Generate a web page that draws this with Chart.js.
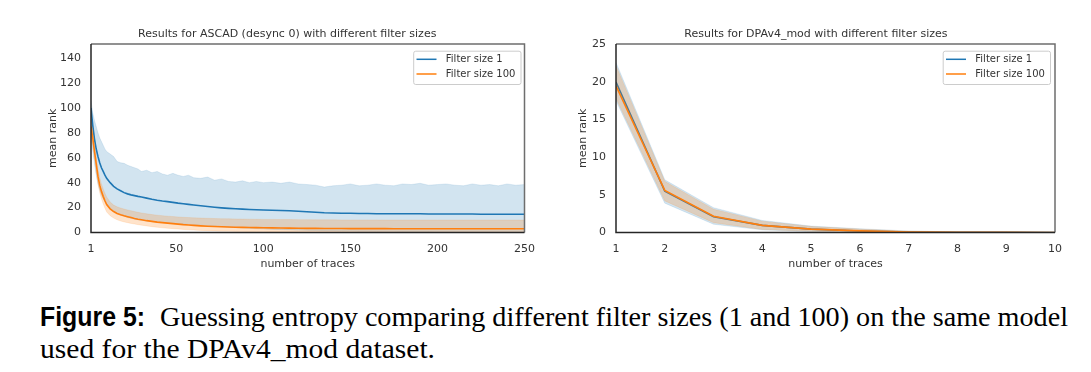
<!DOCTYPE html>
<html>
<head>
<meta charset="utf-8">
<script src="https://cdn.jsdelivr.net/npm/chart.js@4.4.1/dist/chart.umd.min.js"></script>
<style>
  html, body { margin:0; padding:0; background:#fff; width:1091px; height:372px; overflow:hidden; }
  #c1 { position:absolute; left:0; top:0; }
  #c2 { position:absolute; left:545px; top:0; }
  .cap { position:absolute; white-space:nowrap; font-size:27px; line-height:27px; color:#000; transform-origin:0 0; }
  .serif { font-family:'Liberation Serif', serif; }
  .sansb { font-family:'Liberation Sans', sans-serif; font-weight:bold; }
</style>
</head>
<body>
<canvas id="c1" width="545" height="280"></canvas>
<canvas id="c2" width="546" height="280"></canvas>
<span id="capFig" class="cap sansb" style="left:40px; top:304px;">Figure 5:</span>
<span id="capL1" class="cap serif" style="left:160px; top:304px;">Guessing entropy comparing different filter sizes (1 and 100) on the same model</span>
<span id="capL2" class="cap serif" style="left:40px; top:335.7px;">used for the DPAv4_mod dataset.</span>
<script>
// ---------------- DATA ----------------
const TITLE_LEFT = 'Results for ASCAD (desync 0) with different filter sizes';
const TITLE_RIGHT = 'Results for DPAv4_mod with different filter sizes';
const SERIES_NAMES = ['Filter size 1', 'Filter size 100'];
const X_LABEL = 'number of traces';
const Y_LABEL = 'mean rank';

const LEFT_X = [1,2,3,4,5,6,7,8,9,10,
  12,14,16,18,20,22,24,26,28,30,
  33,36,39,42,45,48,51,54,57,60,
  64,68,72,76,80,84,88,92,96,100,
  105,110,115,120,125,130,135,140,145,150,
  155,160,165,170,175,180,185,190,195,200,
  205,210,215,220,225,230,235,240,245,250];
const LEFT_X_TICKS = [1,50,100,150,200,250];
const LEFT_Y_TICKS = [0,20,40,60,80,100,120,140];

const BLUE1_MEAN = [100,86,75,67,61,56,52,49,46,43.5,
  40,37,35,33.5,32,31,30.2,29.6,29,28.5,
  27.6,26.7,25.9,25.3,24.8,24.2,23.6,23.1,22.6,22.1,
  21.5,20.9,20.3,19.8,19.4,19.1,18.8,18.5,18.2,18,
  17.8,17.6,17.4,17.1,16.7,16.2,15.8,15.6,15.5,15.4,
  15.3,15.2,15.1,15.1,15,15,15,15,14.9,14.9,
  14.9,14.8,14.8,14.8,14.7,14.7,14.7,14.6,14.6,14.6];
const BLUE1_UP = [106,96,90,85,80,76,73,70,67,65,
  63,61,57,56,55.5,54,53,52,51,49,
  50,48,49,47,46,47.5,46,45,46,44,
  43.5,44.5,42,43,41,40.5,41.5,40,41,40,
  40.5,39.5,40.5,39,38.5,38,36.5,37.5,38,39,
  37.5,38,39,38,37.5,39,38.5,39.5,38,38.5,
  39,38,37.5,39,38,38.5,37.5,39,38,38.5];
const BLUE1_LO = [78,66,55,46,39,34,30,27,24.5,22.5,
  19.5,17,15.5,14,13,12,11.3,10.7,10.2,9.8,
  9.2,8.7,8.3,8,7.7,7.4,7.1,6.8,6.5,6.2,
  5.8,5.4,5,4.6,4.2,3.9,3.6,3.3,3,2.8,
  2.5,2.3,2.1,1.9,1.7,1.5,1.3,1.2,1.1,1,
  0.9,0.9,0.8,0.8,0.8,0.7,0.7,0.7,0.7,0.6,
  0.6,0.6,0.6,0.6,0.6,0.6,0.6,0.6,0.6,0.6];
const ORANGE1_MEAN = [85,76,65,55,45,38,33,29,25.5,22.5,
  19,16.8,15.3,14.2,13.4,12.7,12,11.3,10.7,10.2,
  9.5,8.9,8.3,7.9,7.5,7.1,6.7,6.3,6,5.7,
  5.3,5,4.8,4.6,4.4,4.2,4.1,4,3.9,3.8,
  3.7,3.6,3.5,3.4,3.3,3.3,3.2,3.2,3.2,3.1,
  3.1,3.1,3.1,3.1,3,3,3,3,3,3,
  3,3,3,3,3,3,3,3,3,3];
const ORANGE1_UP = [90,82,71,61,51,44,39,35,31.5,28.5,
  24.5,22,20.6,19.6,18.8,18.1,17.5,16.8,16.2,15.7,
  15,14.4,13.9,13.5,13.1,12.8,12.5,12.2,12,11.8,
  11.6,11.4,11.2,11.1,11,10.9,10.8,10.7,10.6,10.5,
  10.5,10.4,10.4,10.3,10.3,10.2,10.2,10.2,10.1,10.1,
  10.1,10.1,10.1,10,10,10,10,10,10,10,
  10,10,10,10,10,10,10,10,10,10];
const ORANGE1_LO = [80,70,59,49,39,32,27,23,19.5,16.5,
  13.5,11.6,10.2,9.2,8.5,7.9,7.3,6.8,6.3,5.9,
  5.3,4.7,4.2,3.8,3.4,3.1,2.8,2.5,2.2,2,
  1.7,1.5,1.3,1.1,1,0.9,0.8,0.7,0.6,0.55,
  0.5,0.5,0.5,0.45,0.45,0.4,0.4,0.4,0.4,0.35,
  0.35,0.35,0.35,0.3,0.3,0.3,0.3,0.3,0.3,0.3,
  0.3,0.3,0.3,0.3,0.3,0.3,0.3,0.3,0.3,0.3];

const RIGHT_X = [1,2,3,4,5,6,7,8,9,10];
const RIGHT_X_TICKS = [1,2,3,4,5,6,7,8,9,10];
const RIGHT_Y_TICKS = [0,5,10,15,20,25];
const BLUE2_MEAN = [20.0,5.5,2.1,0.95,0.45,0.2,0.06,0.02,0.01,0];
const BLUE2_UP   = [22.6,7.0,3.3,1.6,0.85,0.5,0.2,0.08,0.04,0.02];
const BLUE2_LO   = [17.5,3.9,1.1,0.35,0.1,0,0,0,0,0];
const ORANGE2_MEAN = [19.5,5.6,2.15,0.95,0.45,0.22,0.07,0.03,0.01,0];
const ORANGE2_UP   = [22.2,6.8,3.1,1.5,0.8,0.45,0.18,0.07,0.03,0.01];
const ORANGE2_LO   = [17.8,4.2,1.3,0.4,0.15,0.03,0,0,0,0];

// ---------------- STYLE ----------------
const BLUE = '#1f77b4', ORANGE = '#ff7f0e';
const BLUE_FILL = 'rgba(31,119,180,0.2)', ORANGE_FILL = 'rgba(255,127,14,0.22)';
const TEXT = '#333333';
const FS = 11;
Chart.defaults.font.family = "'DejaVu Sans', sans-serif";
Chart.defaults.font.size = FS;
Chart.defaults.color = TEXT;

const pts = (xs, ys) => xs.map((x, i) => ({x, y: ys[i]}));

function datasets(xs, bm, bu, bl, om, ou, ol) {
  const line = (label, data, color, order) => ({label, data, borderColor: color, borderWidth: 1.6,
    pointRadius: 0, fill: false, tension: 0, order});
  const band = (data, fillC, edgeC, fill, order) => ({data, borderColor: edgeC, borderWidth: 0.8,
    backgroundColor: fillC, pointRadius: 0, fill, tension: 0, order, isBand: true});
  return [
    line(SERIES_NAMES[0], pts(xs, bm), BLUE, 3),
    band(pts(xs, bu), BLUE_FILL, 'rgba(31,119,180,0.15)', '+1', 4),
    band(pts(xs, bl), BLUE_FILL, 'rgba(31,119,180,0.15)', false, 4),
    line(SERIES_NAMES[1], pts(xs, om), ORANGE, 1),
    band(pts(xs, ou), ORANGE_FILL, 'rgba(255,127,14,0.15)', '+1', 2),
    band(pts(xs, ol), ORANGE_FILL, 'rgba(255,127,14,0.15)', false, 2),
  ];
}

const framePlugin = {
  id: 'frame',
  afterDatasetsDraw(chart) {
    const {ctx, chartArea: a} = chart;
    ctx.save();
    ctx.lineWidth = 1.5;
    ctx.strokeStyle = '#6e6e6e';
    ctx.beginPath();
    ctx.moveTo(a.left, a.top); ctx.lineTo(a.right, a.top); ctx.lineTo(a.right, a.bottom);
    ctx.stroke();
    ctx.strokeStyle = '#262626';
    ctx.beginPath();
    ctx.moveTo(a.left, a.top); ctx.lineTo(a.left, a.bottom); ctx.lineTo(a.right, a.bottom);
    ctx.stroke();
    ctx.restore();
  }
};

const legendPlugin = {
  id: 'mplLegend',
  afterDraw(chart, args, opts) {
    const {ctx, chartArea: a} = chart;
    const items = chart.data.datasets.filter(d => d.label);
    const w = 107.3, h = 33.3;
    const x0 = a.right - opts.rightOffset - w, y0 = a.top + 6.7;
    ctx.save();
    ctx.fillStyle = 'rgba(255,255,255,0.85)';
    ctx.strokeStyle = '#cccccc';
    ctx.lineWidth = 1;
    ctx.beginPath();
    ctx.roundRect(x0 + 0.5, y0 + 0.5, w, h, 2);
    ctx.fill(); ctx.stroke();
    ctx.font = "10px 'DejaVu Sans', sans-serif";
    ctx.textBaseline = 'middle';
    ctx.fillStyle = TEXT;
    items.forEach((d, i) => {
      const yy = y0 + 8.6 + i * 14.7;
      ctx.strokeStyle = d.borderColor;
      ctx.lineWidth = 1.5;
      ctx.beginPath(); ctx.moveTo(x0 + 3.3, yy); ctx.lineTo(x0 + 23.3, yy); ctx.stroke();
      ctx.fillText(d.label, x0 + 32.6, yy + 0.5);
    });
    ctx.restore();
  }
};

function makeChart(id, cfg) {
  return new Chart(document.getElementById(id), {
    type: 'line',
    data: {datasets: datasets(...cfg.data)},
    options: {
      responsive: false, animation: false,
      layout: {padding: {top: 28, left: cfg.padLeft, right: cfg.padRight, bottom: 9}},
      plugins: {
        legend: {display: false}, tooltip: {enabled: false},
        title: {display: true, text: cfg.title, color: TEXT, font: {size: FS, weight: 'normal'},
          padding: {top: 0, bottom: 2.8}},
        mplLegend: {rightOffset: cfg.legendRight}
      },
      scales: {
        x: {type: 'linear', min: cfg.xmin, max: cfg.xmax,
          afterBuildTicks: s => { s.ticks = cfg.xticks.map(v => ({value: v})); },
          afterFit: s => { s.height = 38.5; },
          grid: {display: false, drawTicks: false}, border: {display: false},
          ticks: {padding: 10, color: TEXT, font: {size: FS}, maxRotation: 0, autoSkip: false},
          title: {display: true, text: X_LABEL, color: TEXT, font: {size: FS}, padding: 0}},
        y: {type: 'linear', min: 0, max: cfg.ymax,
          afterBuildTicks: s => { s.ticks = cfg.yticks.map(v => ({value: v})); },
          afterFit: s => { s.width = cfg.yWidth; },
          grid: {display: false, drawTicks: false}, border: {display: false},
          ticks: {padding: 10, color: TEXT, font: {size: FS}, autoSkip: false},
          title: {display: true, text: Y_LABEL, color: TEXT, font: {size: FS}, padding: 0}}
      }
    },
    plugins: [framePlugin, legendPlugin]
  });
}

makeChart('c1', {
  data: [LEFT_X, BLUE1_MEAN, BLUE1_UP, BLUE1_LO, ORANGE1_MEAN, ORANGE1_UP, ORANGE1_LO],
  title: TITLE_LEFT, xmin: 1, xmax: 250, ymax: 151.3, xticks: LEFT_X_TICKS, yticks: LEFT_Y_TICKS,
  padLeft: 46.5, yWidth: 44.5, padRight: 17, legendRight: 4
});
makeChart('c2', {
  data: [RIGHT_X, BLUE2_MEAN, BLUE2_UP, BLUE2_LO, ORANGE2_MEAN, ORANGE2_UP, ORANGE2_LO],
  title: TITLE_RIGHT, xmin: 1, xmax: 10, ymax: 25.05, xticks: RIGHT_X_TICKS, yticks: RIGHT_Y_TICKS,
  padLeft: 31.8, yWidth: 39.2, padRight: 36, legendRight: 5
});

// caption fit to measured widths
function fit(id, target) {
  const el = document.getElementById(id);
  const w = el.getBoundingClientRect().width;
  el.style.transform = 'scaleX(' + (target / w) + ')';
}
fit('capFig', 105);
fit('capL1', 908);
fit('capL2', 395);
</script>
</body>
</html>
